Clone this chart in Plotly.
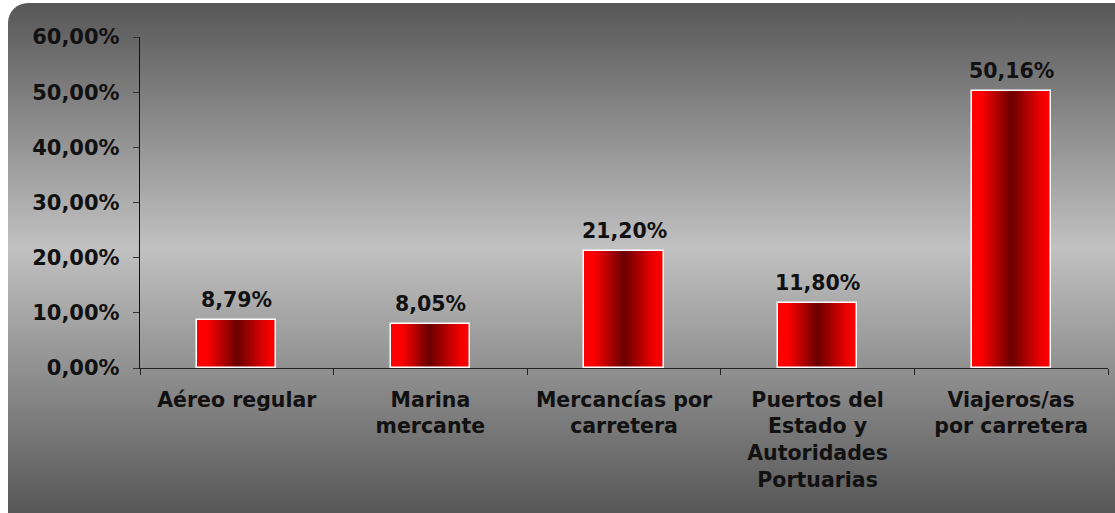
import plotly.graph_objects as go
import base64

# ---- data ----
categories = ["Aéreo regular", "Marina<br>mercante", "Mercancías por<br>carretera",
              "Puertos del<br>Estado y<br>Autoridades<br>Portuarias", "Viajeros/as<br>por carretera"]
values = [8.79, 8.05, 21.20, 11.80, 50.16]
tick_vals = [0, 10, 20, 30, 40, 50, 60]
tick_text = ["0,00%", "10,00%", "20,00%", "30,00%", "40,00%", "50,00%", "60,00%"]

W_FIG, H_FIG = 1115, 513
FONT = dict(family="DejaVu Sans", size=20.5, color="#111111", weight="bold")
TICKFONT_Y = dict(family="DejaVu Sans", size=21, color="#111111", weight="bold")

# horizontal gradient for bars: red -> dark red -> red
stops = [(0.0, (255, 0, 0)), (0.12, (255, 0, 0)), (0.5, (106, 0, 0)), (0.88, (240, 0, 0)), (1.0, (255, 0, 0))]

def grad(t):
    for (t0, c0), (t1, c1) in zip(stops[:-1], stops[1:]):
        if t0 <= t <= t1:
            f = 0 if t1 == t0 else (t - t0) / (t1 - t0)
            return "rgb(%d,%d,%d)" % tuple(round(a + (b - a) * f) for a, b in zip(c0, c1))
    return "rgb(255,0,0)"

fig = go.Figure()
BW = 0.41
N = 40
sw = BW / N
for i in range(N):
    off = -BW / 2 + i * sw
    w = min(sw * 1.8, BW / 2 - off)
    fig.add_trace(go.Bar(x=categories, y=values, width=w, offset=off,
                         marker=dict(color=grad((i + 0.5) / N), line=dict(width=0)),
                         hoverinfo="skip", showlegend=False))
# white outline
fig.add_trace(go.Bar(x=categories, y=values, width=BW,
                     marker=dict(color="rgba(0,0,0,0)", line=dict(color="white", width=1.5)),
                     showlegend=False, hoverinfo="skip"))

for c, v in zip(categories, values):
    fig.add_annotation(x=c, y=v, text=("%.2f%%" % v).replace(".", ","), showarrow=False,
                       yanchor="bottom", yshift=6, font=FONT)

# background: rounded rect with vertical gradient
svg = ('<svg xmlns="http://www.w3.org/2000/svg" width="%d" height="%d">'
       '<defs><linearGradient id="g" gradientUnits="userSpaceOnUse" x1="0" y1="3" x2="0" y2="513">'
       '<stop offset="0" stop-color="#575757"/><stop offset="0.48" stop-color="#c1c1c1"/>'
       '<stop offset="1" stop-color="#575757"/></linearGradient></defs>'
       '<rect x="8" y="3" width="1125" height="540" rx="20" ry="20" fill="url(#g)"/></svg>') % (W_FIG, H_FIG)
src = "data:image/svg+xml;base64," + base64.b64encode(svg.encode()).decode()
fig.add_layout_image(source=src, xref="paper", yref="paper", x=0, y=1, sizex=1, sizey=1,
                     sizing="stretch", xanchor="left", yanchor="top", layer="below")

x0, x1 = 140, 1108
y0, y1 = 368, 37
fig.update_layout(
    width=W_FIG, height=H_FIG,
    margin=dict(l=0, r=0, t=0, b=0),
    paper_bgcolor="white", plot_bgcolor="rgba(0,0,0,0)",
    barmode="overlay", bargap=0,
    font=FONT,
    xaxis=dict(domain=[x0 / W_FIG, x1 / W_FIG], range=[-0.5, 4.5], showline=True,
               linecolor="#222222", linewidth=1.3, ticks="outside", tickson="boundaries",
               ticklen=6, tickcolor="#222222", showgrid=False, automargin=False,
               tickfont=FONT, ticklabelstandoff=13, fixedrange=True),
    yaxis=dict(domain=[(H_FIG - y0) / H_FIG, (H_FIG - y1) / H_FIG], range=[0, 60],
               tickvals=tick_vals, ticktext=tick_text, showline=True, linecolor="#111111",
               linewidth=1.3, ticks="outside", ticklen=6, tickcolor="#333333",
               showgrid=False, zeroline=False, automargin=False, tickfont=TICKFONT_Y,
               ticklabelstandoff=9, fixedrange=True),
)
fig.write_html("out.html", config={"displayModeBar": False},
               post_script="document.body.style.margin='0';")
